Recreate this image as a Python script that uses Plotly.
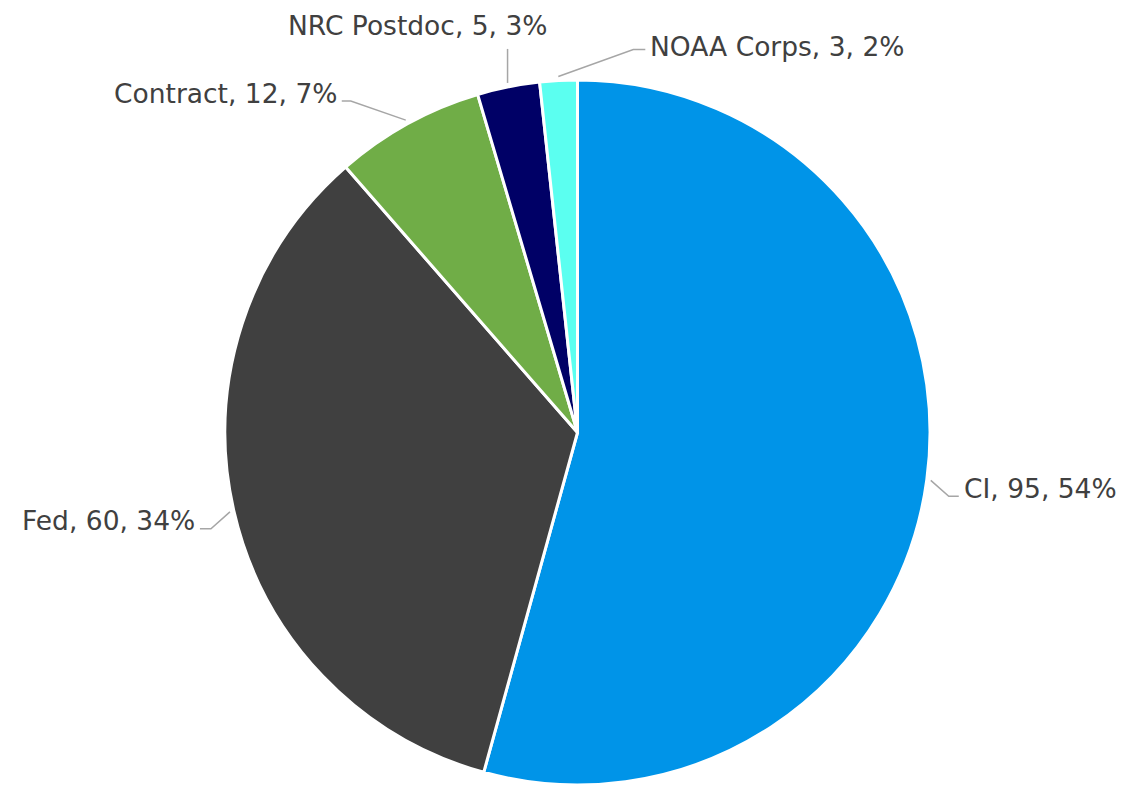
import math
import plotly.graph_objects as go

# ---- data ----
categories = ["CI", "Fed", "Contract", "NRC Postdoc", "NOAA Corps"]
values = [95, 60, 12, 5, 3]
percent_labels = ["54%", "34%", "7%", "3%", "2%"]

# ---- style ----
colors = ["#0094E8", "#404040", "#70AD47", "#000066", "#5BFFF0"]
OFF = 8  # page body margin
W, H = 1126 - OFF, 785 - OFF
CX, CY, R = 577.5, 432.5, 352.5  # pie centre / radius in page px
FONT = "DejaVu Sans"
TXT = "#404040"
LINE = "#A6A6A6"

# label layout per slice: elbow offset from edge point, horizontal tail, text side
label_layout = {
    "CI":          dict(elbow=(18, 16), tail=10, side="right", dy=-8),
    "Fed":         dict(elbow=(-19, 17), tail=-11, side="left", dy=-8),
    "Contract":    dict(elbow=(-55, -19), tail=-9, side="left", dy=-8),
    "NRC Postdoc": dict(elbow=(0, -34), tail=0, side="top", dy=-23, dx=-90),
    "NOAA Corps":  dict(elbow=(75, -27), tail=12, side="right", dy=-3),
}

def px(x):
    return (x - OFF) / W

def py(y):
    return 1 - (y - OFF) / H

fig = go.Figure(go.Pie(
    labels=categories,
    values=values,
    sort=False,
    direction="clockwise",
    rotation=0,
    marker=dict(colors=colors, line=dict(color="white", width=3)),
    textinfo="none",
    hoverinfo="label+value+percent",
    domain=dict(x=[px(CX - R), px(CX + R)], y=[max(0, py(CY + R)), py(CY - R)]),
    showlegend=False,
))

total = sum(values)
cum = 0
shapes = []
annotations = []
for cat, v, pl in zip(categories, values, percent_labels):
    mid = (cum + v / 2) / total * 2 * math.pi
    cum += v
    lay = label_layout[cat]
    rr = R + 4
    sx = CX + rr * math.sin(mid)
    sy = CY - rr * math.cos(mid)
    ex, ey = sx + lay["elbow"][0], sy + lay["elbow"][1]
    tx, ty = ex + lay["tail"], ey
    path = f"M {px(sx)},{py(sy)} L {px(ex)},{py(ey)} L {px(tx)},{py(ty)}"
    shapes.append(dict(type="path", path=path, xref="paper", yref="paper",
                       line=dict(color=LINE, width=1.5)))
    text = f"{cat}, {v}, {pl}"
    if lay["side"] == "right":
        ax, xa = tx + 3, "left"
    elif lay["side"] == "left":
        ax, xa = tx - 3, "right"
    else:
        ax, xa = tx + lay.get("dx", 0), "center"
    annotations.append(dict(x=px(ax), y=py(ty + lay["dy"]), xref="paper", yref="paper",
                            text=text, showarrow=False, xanchor=xa, yanchor="middle",
                            font=dict(family=FONT, size=26.5, color=TXT)))

fig.update_layout(
    width=W, height=H,
    margin=dict(l=0, r=0, t=0, b=0),
    paper_bgcolor="white",
    plot_bgcolor="white",
    shapes=shapes,
    annotations=annotations,
)

fig.write_html("out.html")
